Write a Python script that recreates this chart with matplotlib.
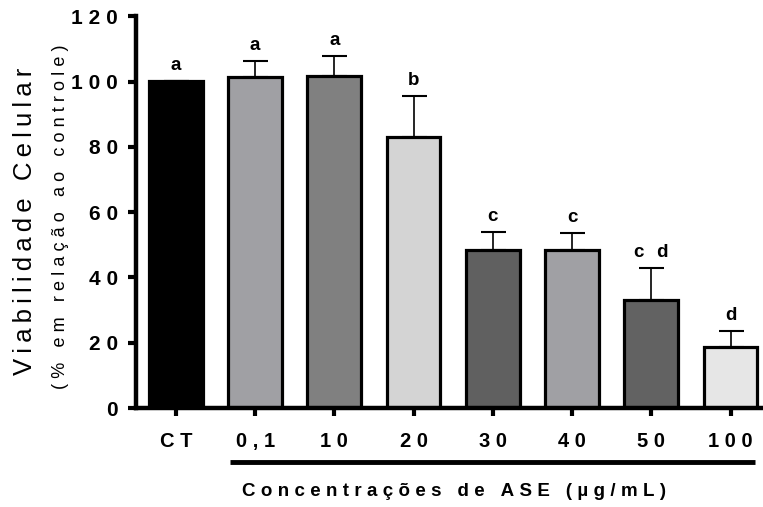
import matplotlib
matplotlib.use("Agg")
import matplotlib.pyplot as plt

plt.rcParams['font.family'] = ['Liberation Sans', 'DejaVu Sans']

# dados
grupos = ["CT", "0,1", "10", "20", "30", "40", "50", "100"]
viabilidade = [100.2, 101.4, 101.7, 83.0, 48.5, 48.3, 33.0, 18.7]
erro = [0.0, 4.9, 6.2, 12.6, 5.3, 5.4, 9.8, 4.8]
letras = ["a", "a", "a", "b", "c", "c", "c d", "d"]
cores = ["#000000", "#a0a0a4", "#808080", "#d4d4d4", "#606060", "#a0a0a4", "#626262", "#e6e6e6"]
yticks = [0, 20, 40, 60, 80, 100, 120]


def esp(s, sep="\u2009"):
    # espaçamento entre letras
    return sep.join(" " if c == " " else c for c in s)


fig = plt.figure(figsize=(7.63, 5.07), dpi=100)
ax = fig.add_axes([0.178, 0.195, 0.822, 0.773])

x = range(len(grupos))
ax.errorbar(x, viabilidade, yerr=[[0] * len(erro), erro], fmt="none",
            ecolor="black", elinewidth=1.2, capsize=9, capthick=1.5, zorder=1)
ax.bar(x, viabilidade, width=0.68, color=cores, edgecolor="black",
       linewidth=2.3, zorder=2)

for i in x:
    ax.annotate(esp(letras[i]), (i, viabilidade[i] + erro[i]), xytext=(0, 8),
                textcoords="offset points", ha="center", va="baseline",
                fontsize=13.5, fontweight="bold")

ax.set_xlim(-0.505, 7.41)
ax.set_ylim(0, 120)
ax.set_yticks(yticks)
ax.set_yticklabels([esp(str(v), "\u2009\u200a") for v in yticks], fontsize=15, fontweight="bold")
ax.set_xticks(list(x))
ax.set_xticklabels([esp(g, "\u2009\u200a") for g in grupos], fontsize=14.5, fontweight="bold")
ax.tick_params(axis="y", length=6, width=3, pad=7)
ax.tick_params(axis="x", length=6, width=3, pad=11)

for s in ["top", "right"]:
    ax.spines[s].set_visible(False)
for s in ["left", "bottom"]:
    ax.spines[s].set_linewidth(3.2)

# linha sob as concentrações
ax.plot([0.68, 7.31], [-0.138, -0.138], color="black", linewidth=3.5,
        transform=ax.get_xaxis_transform(), clip_on=False, solid_capstyle="butt")

fig.text(0.595, 0.030, esp("Concentrações de ASE (µg/mL)", "\u2009\u200a"), ha="center",
         va="center", fontsize=13.5, fontweight="bold")
fig.text(0.033, 0.564, esp("Viabilidade Celular"), rotation=90, ha="center",
         va="center", fontsize=18.5)
fig.text(0.079, 0.572, esp("(% em relação ao controle)", "\u2009\u200a"), rotation=90,
         ha="center", va="center", fontsize=13)

fig.savefig("out.png", dpi=100)
